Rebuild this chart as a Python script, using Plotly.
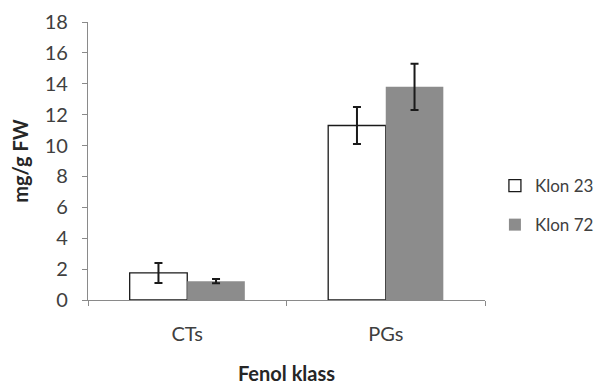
import plotly.graph_objects as go

categories = ["CTs", "PGs"]
klon23 = [1.75, 11.3]
klon23_err = [0.65, 1.2]
klon72 = [1.22, 13.8]
klon72_err = [0.14, 1.5]
series_names = ["Klon 23", "Klon 72"]
yticks = [0, 2, 4, 6, 8, 10, 12, 14, 16, 18]

font_family = "Lato, 'Open Sans', sans-serif"

fig = go.Figure()
fig.add_trace(go.Bar(
    x=categories, y=klon23, name=series_names[0], legendgroup="a",
    marker=dict(color="white", line=dict(color="#1a1a1a", width=1.3)),
    error_y=dict(type="data", array=klon23_err, color="#1a1a1a", thickness=2, width=4),
))
fig.add_trace(go.Bar(
    x=categories, y=klon72, name=series_names[1], legendgroup="b",
    marker=dict(color="#8c8c8c", line=dict(color="#8c8c8c", width=0)),
    error_y=dict(type="data", array=klon72_err, color="#1a1a1a", thickness=2, width=4),
))

# page body has a default 8px margin, so the figure is offset by 8px
fig.update_layout(
    width=595, height=377,
    margin=dict(l=80, r=118, t=14, b=85, autoexpand=False),
    paper_bgcolor="white", plot_bgcolor="white",
    barmode="group", bargap=0.42, bargroupgap=0,
    font=dict(family=font_family, size=20, color="#404040"),
    legend=dict(x=1.025, y=0.34, xanchor="left", yanchor="middle",
                font=dict(size=17, color="#404040"), tracegroupgap=14,
                itemwidth=30),
    showlegend=True,
)
fig.update_xaxes(
    automargin=False,
    showline=True, linecolor="#8a8a8a", linewidth=1.3,
    ticks="outside", tickson="boundaries", ticklen=5, tickcolor="#8a8a8a",
    ticklabelstandoff=16,
    showgrid=False, zeroline=False,
    title=dict(text="<b>Fenol klass</b>", font=dict(size=20, color="#262626"), standoff=22),
)
fig.update_yaxes(
    automargin=False,
    range=[0, 18], tickvals=yticks, showline=True, linecolor="#8a8a8a", linewidth=1.3,
    ticks="outside", ticklen=5, tickcolor="#8a8a8a",
    ticklabelstandoff=10,
    showgrid=False, zeroline=False,
    title=dict(text="<b>mg/g FW</b>", font=dict(size=20, color="#262626"), standoff=14),
)

fig.write_html("out.html")
